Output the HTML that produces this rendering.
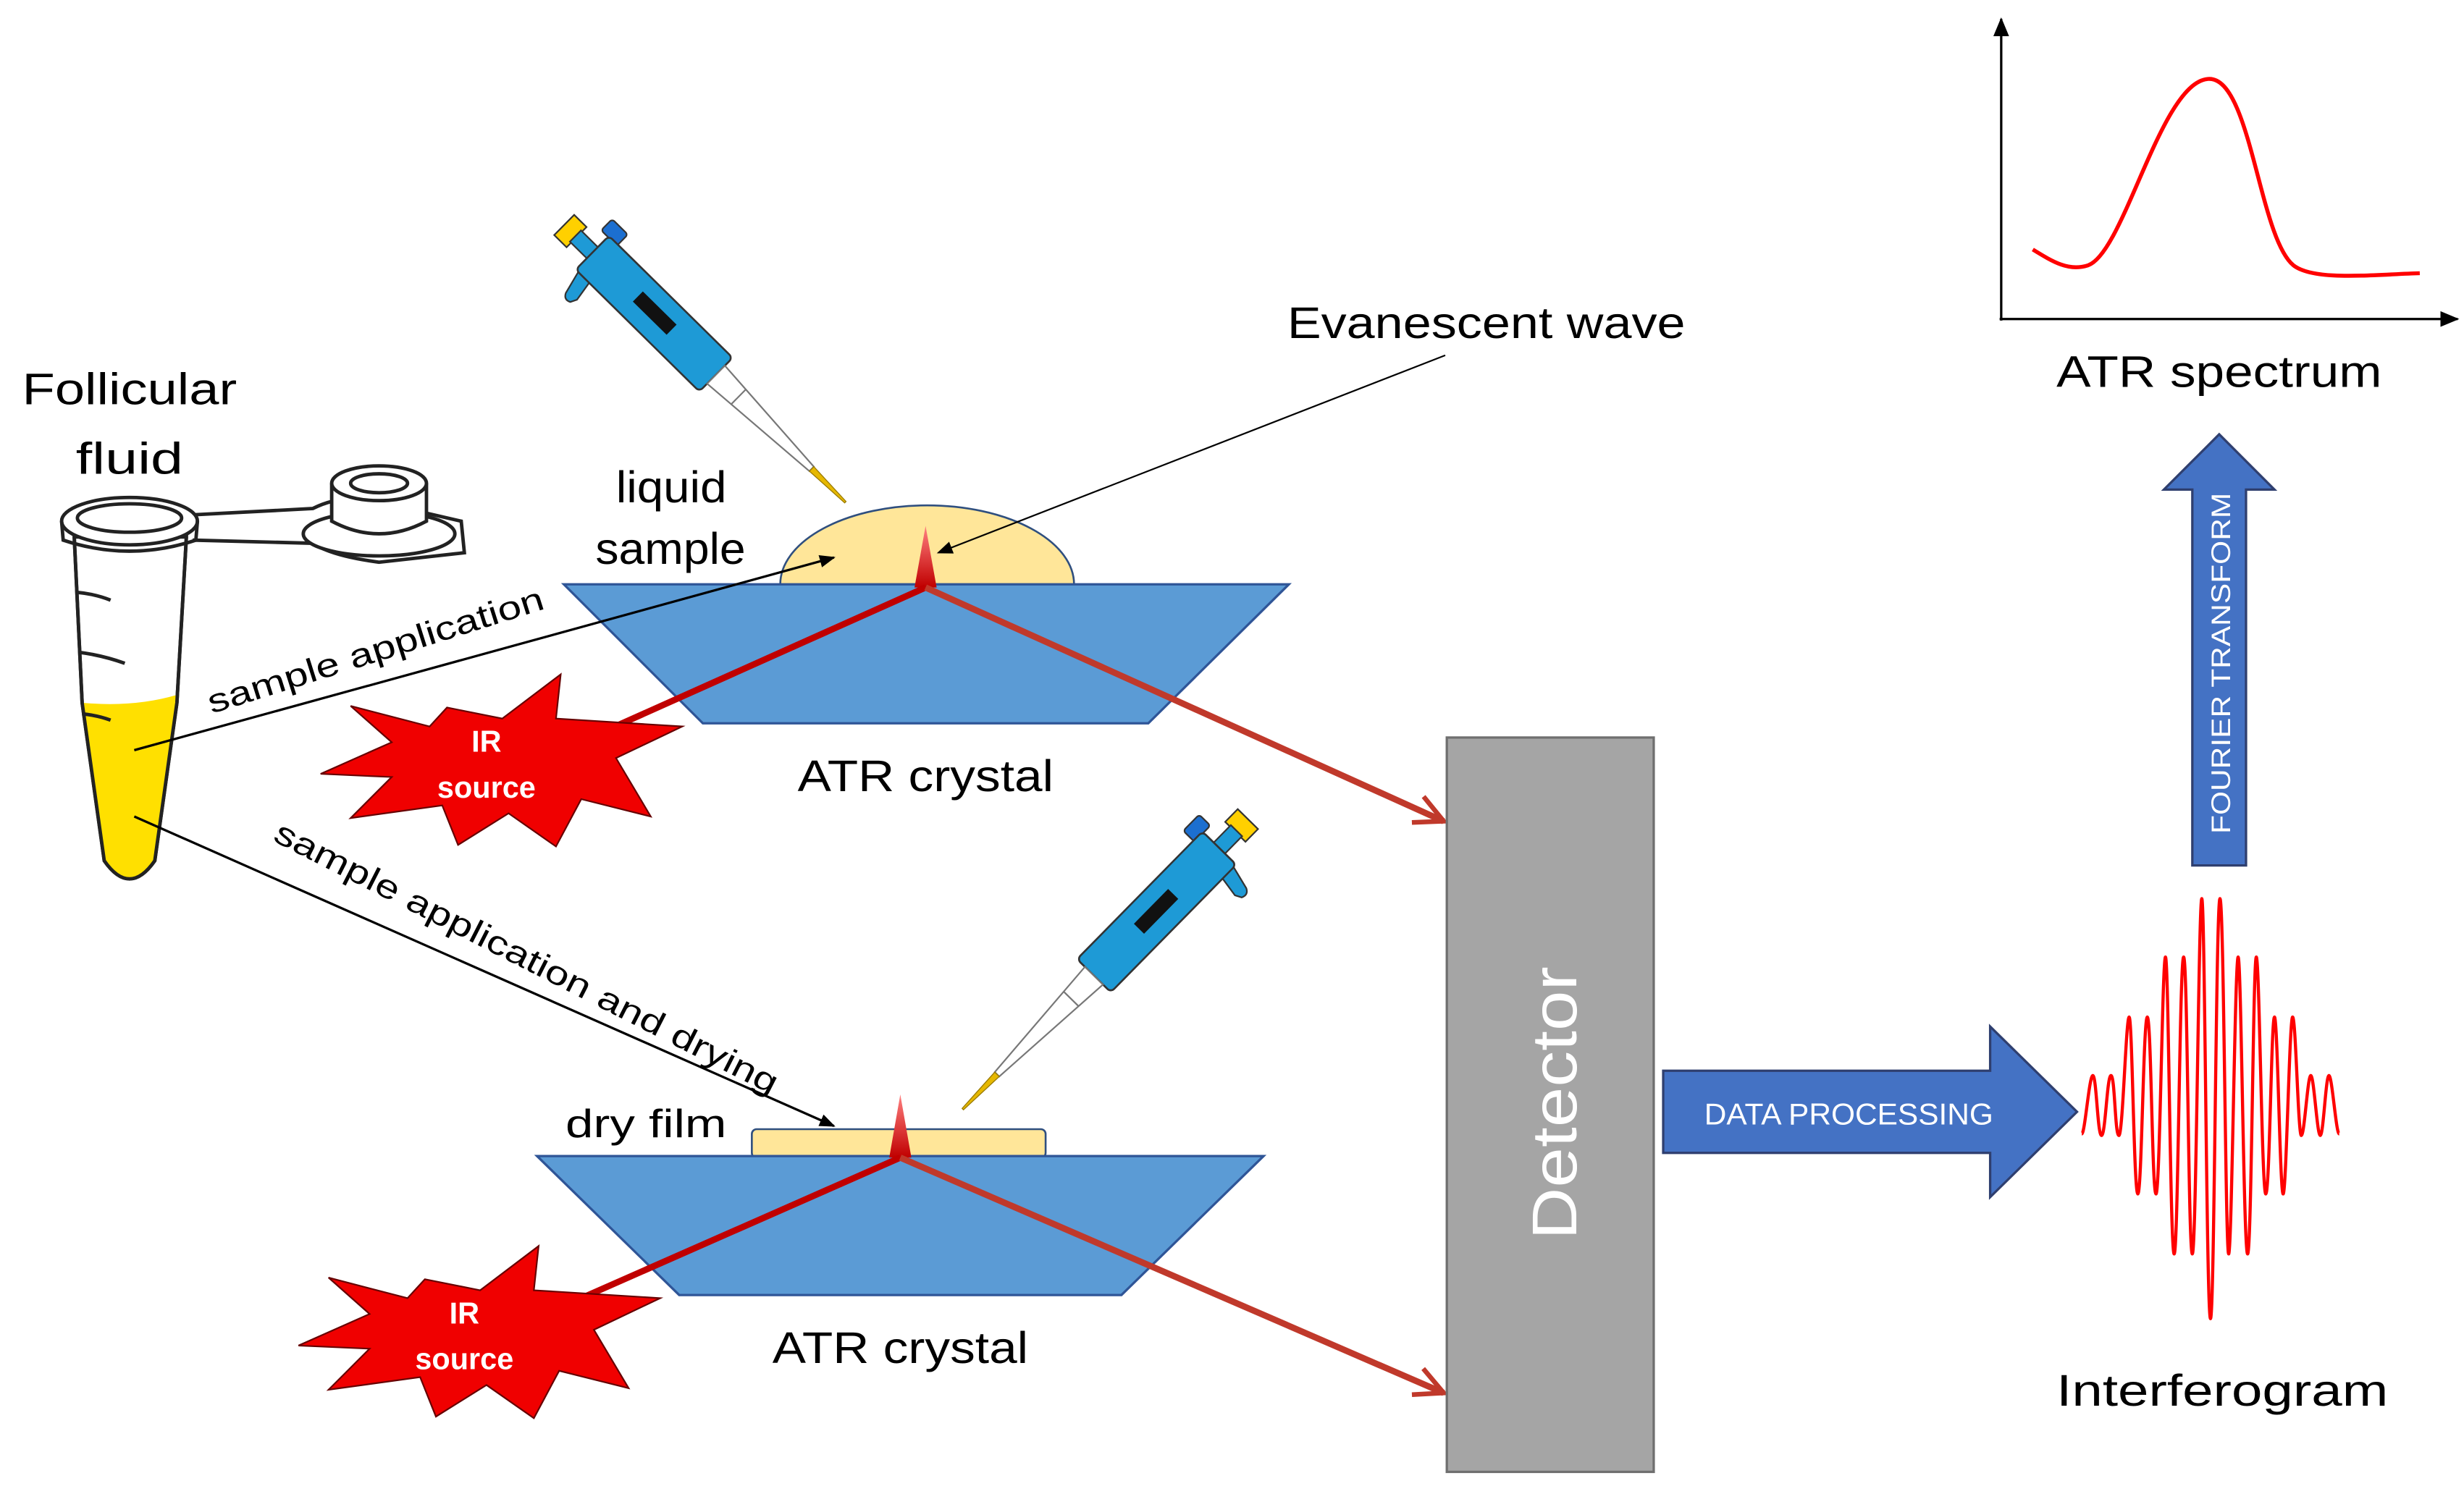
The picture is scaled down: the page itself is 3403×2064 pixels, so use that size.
<!DOCTYPE html>
<html><head><meta charset="utf-8"><style>
html,body{margin:0;padding:0;background:#fff;}
svg{display:block;}
text{font-family:"Liberation Sans",sans-serif;}
</style></head><body>
<svg width="3403" height="2064" viewBox="0 0 1560 946" preserveAspectRatio="none" xmlns="http://www.w3.org/2000/svg">
<defs>
<marker id="ab" markerWidth="10" markerHeight="8" refX="9" refY="4" orient="auto" markerUnits="userSpaceOnUse"><path d="M0,0 L10,4 L0,8 Z" fill="#000"/></marker>
<marker id="ar" markerWidth="22" markerHeight="22" refX="20" refY="11" orient="auto" markerUnits="userSpaceOnUse"><path d="M2,2 L20,11 L2,20" fill="none" stroke="#C0392B" stroke-width="3"/></marker>
<marker id="ak" markerWidth="12" markerHeight="10" refX="11" refY="5" orient="auto" markerUnits="userSpaceOnUse"><path d="M0,0 L12,5 L0,10 Z" fill="#000"/></marker>
<linearGradient id="spk" x1="0" y1="0" x2="0" y2="1"><stop offset="0" stop-color="#ff8080"/><stop offset="1" stop-color="#C00000"/></linearGradient>
<g id="pip">
<rect x="-25" y="-9" width="11" height="18" fill="#FFD000" stroke="#333" stroke-width="1"/>
<rect x="-15" y="-5" width="16" height="10" fill="#1E9AD6" stroke="#333" stroke-width="1"/>
<rect x="-6" y="-24" width="14" height="10" rx="2" fill="#1C6FD0" stroke="#333" stroke-width="1"/>
<path d="M2,14 L6,30 Q8,34 12,32 L14,28 L12,15 Z" fill="#1E9AD6" stroke="#333" stroke-width="1"/>
<rect x="0" y="-15" width="110" height="30" rx="3" fill="#1E9AD6" stroke="#333" stroke-width="1.2"/>
<rect x="40" y="-5" width="30" height="9" fill="#111"/>
<polygon points="110,-8 110,8 195,2 195,-2" fill="#fff" stroke="#777" stroke-width="1"/>
<line x1="130" y1="-6.5" x2="130" y2="6.5" stroke="#777" stroke-width="1"/>
<polygon points="195,-2 195,2 225,0.6 225,-0.6" fill="#E6B800" stroke="#997a00" stroke-width="0.6"/>
</g>
<polygon id="star" points="355,427 352,455 432,460 390,480 412,517 368,506 352,536 322,515 290,535 280,510 222,518 248,492 203,490 248,470 222,447 272,460 283,448 318,455" fill="#F00000" stroke="#600" stroke-width="1"/>
</defs>

<g stroke="#222" stroke-width="2.2" fill="none">
<path d="M122,326 L198,322 Q218,312 240,318 L292,330 L294,350 L240,356 Q210,352 198,344 L122,342" fill="#fff"/>
<ellipse cx="240" cy="338" rx="48" ry="14" fill="#fff"/>
<path d="M210,306 L210,330 Q240,346 270,330 L270,306" fill="#fff"/>
<ellipse cx="240" cy="306" rx="30" ry="11" fill="#fff"/>
<ellipse cx="240" cy="306" rx="18" ry="6"/>
<path d="M47,340 L52,445 L66,545 Q82,568 98,545 L112,445 L118,340 Z" fill="#fff"/>
<path d="M52,445 Q85,448 112,440 L98,545 Q82,568 66,545 Z" fill="#FFE000" stroke="none"/>
<path d="M47,340 L52,445 L66,545 Q82,568 98,545 L112,445 L118,340"/>
<ellipse cx="82" cy="330" rx="43" ry="15" fill="#fff"/>
<ellipse cx="82" cy="328" rx="33" ry="9"/>
<path d="M39,330 L40,342 Q82,356 124,342 L125,330"/>
<path d="M48,375 Q60,376 70,380 M50,413 Q65,415 79,420 M52,452 Q62,453 70,456"/>
</g>

<use href="#pip" transform="translate(375,160) rotate(44.6)"/>
<use href="#pip" transform="translate(772,537) rotate(134.5) scale(1.03,-1)"/>

<path d="M494,370 A93,50 0 0 1 680,370 Z" fill="#FFE699" stroke="#2F4F7F" stroke-width="1.2"/>
<polygon points="357,370 816,370 727,458 445,458" fill="#5B9BD5" stroke="#2F5597" stroke-width="1.5"/>
<polygon points="579,372 586,333 593,372" fill="url(#spk)"/>
<line x1="586" y1="372" x2="385" y2="462" stroke="#C00000" stroke-width="4"/>
<line x1="586" y1="372" x2="914" y2="520" stroke="#C0392B" stroke-width="4" marker-end="url(#ar)"/>

<rect x="476" y="715" width="186" height="18" rx="3" fill="#FFE699" stroke="#2F4F7F" stroke-width="1.2"/>
<polygon points="340,732 800,732 710,820 430,820" fill="#5B9BD5" stroke="#2F5597" stroke-width="1.5"/>
<polygon points="563,733 570,693 577,733" fill="url(#spk)"/>
<line x1="570" y1="733" x2="368" y2="822" stroke="#C00000" stroke-width="4"/>
<line x1="570" y1="733" x2="914" y2="882" stroke="#C0392B" stroke-width="4" marker-end="url(#ar)"/>

<use href="#star"/>
<use href="#star" transform="translate(-14,362)"/>
<g fill="#fff" font-weight="bold" font-size="19" text-anchor="middle">
<text x="308" y="476">IR</text><text x="308" y="505">source</text>
<text x="294" y="838">IR</text><text x="294" y="867">source</text>
</g>

<line x1="85" y1="475" x2="528" y2="353" stroke="#000" stroke-width="1.5" marker-end="url(#ab)"/>
<line x1="85" y1="517" x2="528" y2="713" stroke="#000" stroke-width="1.5" marker-end="url(#ab)"/>
<line x1="915" y1="225" x2="594" y2="350" stroke="#000" stroke-width="1" marker-end="url(#ab)"/>

<g fill="#000" font-size="28">
<text x="14" y="256" textLength="136" lengthAdjust="spacingAndGlyphs">Follicular</text>
<text x="48" y="300" textLength="68" lengthAdjust="spacingAndGlyphs">fluid</text>
<text x="390" y="318" textLength="70" lengthAdjust="spacingAndGlyphs">liquid</text>
<text x="377" y="357" textLength="95" lengthAdjust="spacingAndGlyphs">sample</text>
<text x="505" y="501" textLength="162" lengthAdjust="spacingAndGlyphs">ATR crystal</text>
<text x="489" y="863" textLength="162" lengthAdjust="spacingAndGlyphs">ATR crystal</text>
<text x="358" y="720" font-size="25" textLength="102" lengthAdjust="spacingAndGlyphs">dry film</text>
<text x="815" y="214" textLength="252" lengthAdjust="spacingAndGlyphs">Evanescent wave</text>
<text x="1302" y="245" textLength="206" lengthAdjust="spacingAndGlyphs">ATR spectrum</text>
<text x="1302" y="890" textLength="210" lengthAdjust="spacingAndGlyphs">Interferogram</text>
<text font-size="21" transform="translate(134,452) rotate(-17.5)" textLength="222" lengthAdjust="spacingAndGlyphs">sample application</text>
<text font-size="21" transform="translate(172,532) rotate(27)" textLength="355" lengthAdjust="spacingAndGlyphs">sample application and drying</text>
</g>

<rect x="916" y="467" width="131" height="465" fill="#A5A5A5" stroke="#6f6f6f" stroke-width="1.5"/>
<text transform="translate(998,785) rotate(-90)" fill="#fff" font-size="40" textLength="173" lengthAdjust="spacingAndGlyphs">Detector</text>

<polygon points="1053,678 1260,678 1260,650 1315,704 1260,758 1260,730 1053,730" fill="#4472C4" stroke="#2F3F6F" stroke-width="1.5"/>
<text x="1079" y="712" fill="#fff" font-size="19" textLength="183" lengthAdjust="spacingAndGlyphs">DATA PROCESSING</text>

<polygon points="1388,548 1388,310 1370,310 1405,275 1440,310 1422,310 1422,548" fill="#4472C4" stroke="#2F3F6F" stroke-width="1.5"/>
<text transform="translate(1412,528) rotate(-90)" fill="#fff" font-size="17" textLength="216" lengthAdjust="spacingAndGlyphs">FOURIER TRANSFORM</text>

<line x1="1267" y1="203" x2="1267" y2="12" stroke="#000" stroke-width="1.5" marker-end="url(#ak)"/>
<line x1="1266" y1="202" x2="1556" y2="202" stroke="#000" stroke-width="1.5" marker-end="url(#ak)"/>
<path d="M1287,158 C1300,166 1310,172 1322,168 C1345,160 1368,52 1398,50 C1425,48 1430,150 1452,168 C1465,178 1500,174 1532,173" fill="none" stroke="#F00" stroke-width="2.5"/>

<path d="M1318,718 C1320,718 1322.7,681 1325,681 S1328,719 1330.5,719 S1334,681 1336.5,681 S1339,719 1341.5,719 S1346,644 1348,644 S1351,756 1353.5,756 S1357,644 1359.5,644 S1362.5,756 1365,756 S1369,606 1371,606 S1374,794 1376.5,794 S1380,606 1382.5,606 S1385.5,794 1388,794 S1392,569 1394,569 S1397,835 1399.5,835 S1403,569 1405.5,569 S1409,794 1411,794 S1415,606 1417,606 S1420.5,794 1423,794 S1426.5,606 1428.5,606 S1432,756 1434.5,756 S1438,644 1440,644 S1443.5,756 1445.5,756 S1449.5,644 1451.5,644 S1455,719 1457,719 S1461,681 1463,681 S1467,719 1469,719 S1472.5,681 1474.5,681 S1479,718 1481,718" fill="none" stroke="#F00" stroke-width="2"/>
</svg>
</body></html>
